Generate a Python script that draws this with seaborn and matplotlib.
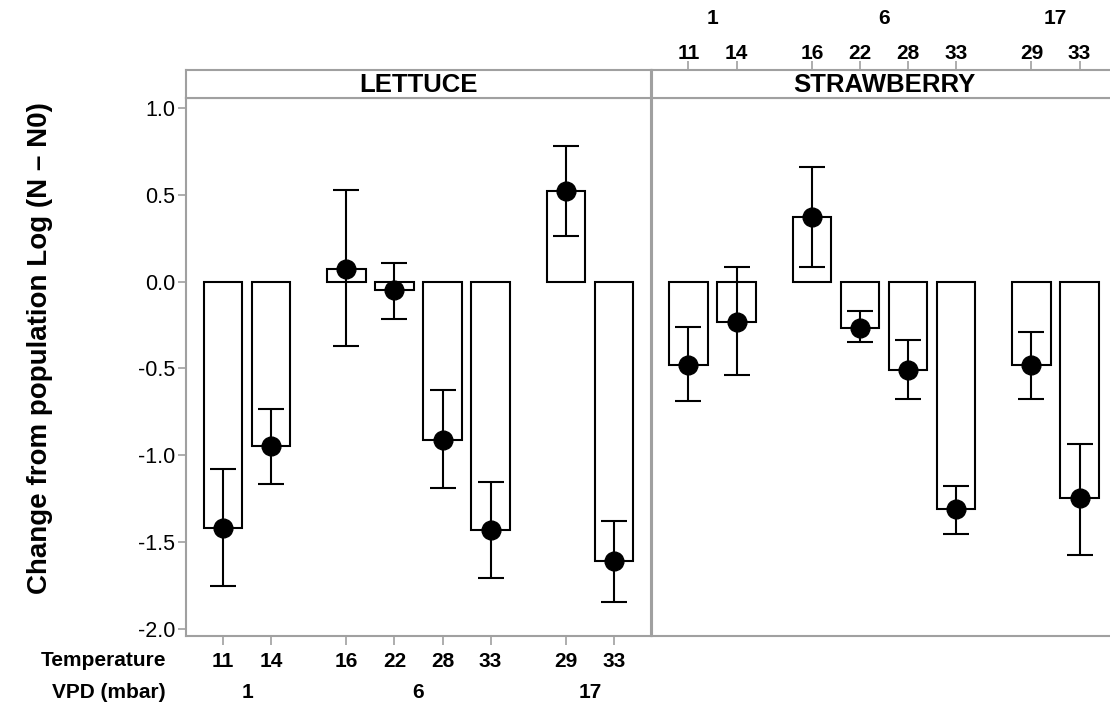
import numpy as np
import pandas as pd
import matplotlib
matplotlib.use("Agg")
import matplotlib.pyplot as plt
import matplotlib.transforms as mtransforms
import seaborn as sns

# ---- data ----
crops = ["LETTUCE", "STRAWBERRY"]
temperatures = [11, 14, 16, 22, 28, 33, 29, 33]
vpd_mbar = [1, 1, 6, 6, 6, 6, 17, 17]

lettuce_mean = [-1.42, -0.95, 0.075, -0.05, -0.915, -1.43, 0.525, -1.61]
lettuce_low = [-1.755, -1.165, -0.372, -0.215, -1.187, -1.707, 0.265, -1.849]
lettuce_high = [-1.078, -0.732, 0.53, 0.108, -0.625, -1.153, 0.783, -1.382]

strawberry_mean = [-0.48, -0.231, 0.375, -0.267, -0.507, -1.311, -0.48, -1.249]
strawberry_low = [-0.686, -0.54, 0.085, -0.348, -0.675, -1.453, -0.675, -1.574]
strawberry_high = [-0.263, 0.085, 0.663, -0.167, -0.336, -1.178, -0.288, -0.938]

y_ticks = [1.0, 0.5, 0.0, -0.5, -1.0, -1.5, -2.0]

# ---- style ----
sns.set_style("white")
plt.rcParams["font.family"] = ["Liberation Sans", "DejaVu Sans"]
plt.rcParams["axes.unicode_minus"] = False
plt.rcParams["text.color"] = "black"
plt.rcParams["axes.labelcolor"] = "black"
plt.rcParams["xtick.color"] = "black"
plt.rcParams["ytick.color"] = "black"

GRAY = "#a0a0a0"
W, H = 1110, 707
fig = plt.figure(figsize=(W / 100, H / 100), dpi=100)

# x positions: unit spacing within a VPD group, wider gap between groups
positions = []
x = 0.0
prev = None
for v in vpd_mbar:
    if prev is not None:
        x += 1.0 if v == prev else 1.57
    positions.append(x)
    prev = v
positions = np.array(positions)
xlim = (positions[0] - 0.77, positions[-1] + 0.77)
ylim = (-2.043, 1.059)

rows = []
for crop, m, lo, hi in [
    ("LETTUCE", lettuce_mean, lettuce_low, lettuce_high),
    ("STRAWBERRY", strawberry_mean, strawberry_low, strawberry_high),
]:
    for p, t, v, mm, l, h in zip(positions, temperatures, vpd_mbar, m, lo, hi):
        rows.append(dict(crop=crop, pos=p, temp=t, vpd=v, mean=mm, low=l, high=h))
df = pd.DataFrame(rows)

def fx(px):
    return px / W

def fy(py):
    return 1 - py / H

panel_left = [186.0, 651.5]
panel_w = 465.0
top_plot, bottom_plot = 98.0, 636.0
strip_top = 70.0
LBL = 15

for i, crop in enumerate(crops):
    ax = fig.add_axes([fx(panel_left[i]), fy(bottom_plot), fx(panel_w), (bottom_plot - top_plot) / H])
    st = fig.add_axes([fx(panel_left[i]), fy(top_plot), fx(panel_w), (top_plot - strip_top) / H])
    sub = df[df.crop == crop]
    sns.barplot(data=sub, x="pos", y="mean", native_scale=True, color="white",
                edgecolor="black", linewidth=1.5, width=0.8, errorbar=None,
                saturation=1, ax=ax, zorder=2)
    ax.errorbar(sub["pos"], sub["mean"],
                yerr=[sub["mean"] - sub["low"], sub["high"] - sub["mean"]],
                fmt="o", color="black", ms=13.5, capsize=9.7, elinewidth=1.5,
                capthick=1.5, zorder=3)
    ax.set_xlim(*xlim)
    ax.set_ylim(*ylim)
    ax.set_xlabel("")
    ax.set_ylabel("")
    for s in ax.spines.values():
        s.set_color(GRAY)
        s.set_linewidth(1.5)
        s.set_visible(True)
    ax.set_xticks(positions)
    if i == 0:
        ax.set_yticks(y_ticks)
        ax.set_yticklabels([f"{t:.1f}" for t in y_ticks], fontsize=15.5)
        ax.tick_params(axis="y", direction="out", length=6, width=1.2, color=GRAY,
                       labelcolor="black", pad=2, left=True)
        ax.set_xticklabels([str(t) for t in temperatures], fontsize=LBL, fontweight="bold")
        ax.tick_params(axis="x", direction="out", length=6.5, width=1.2, color=GRAY,
                       labelcolor="black", pad=5, bottom=True)
        trans = mtransforms.blended_transform_factory(ax.transData, fig.transFigure)
        for v in sorted(set(vpd_mbar)):
            xs = positions[np.array(vpd_mbar) == v]
            ax.text(xs.mean(), fy(693), str(v), transform=trans, ha="center", va="center",
                    fontsize=LBL, fontweight="bold", color="black")
    else:
        ax.set_yticks([])
        ax.set_xticklabels([])
        ax.tick_params(axis="x", length=0)

    # strip header
    st.set_xlim(*xlim)
    st.set_ylim(0, 1)
    st.set_yticks([])
    for s in st.spines.values():
        s.set_color(GRAY)
        s.set_linewidth(1.5)
    st.text(0.5, 0.46, crop, transform=st.transAxes, ha="center", va="center",
            fontsize=18.5, fontweight="bold", color="black")
    if i == 1:
        st.xaxis.tick_top()
        st.set_xticks(positions)
        st.set_xticklabels([str(t) for t in temperatures], fontsize=LBL, fontweight="bold")
        st.tick_params(axis="x", direction="out", length=6.5, width=1.2, color=GRAY,
                       labelcolor="black", pad=-1.5, top=True)
        trans = mtransforms.blended_transform_factory(st.transData, fig.transFigure)
        for v in sorted(set(vpd_mbar)):
            xs = positions[np.array(vpd_mbar) == v]
            st.text(xs.mean(), fy(18.5), str(v), transform=trans, ha="center", va="center",
                    fontsize=LBL, fontweight="bold", color="black")
    else:
        st.set_xticks([])

fig.text(fx(166), fy(660.5), "Temperature", ha="right", va="center", fontsize=LBL,
         fontweight="bold", color="black")
fig.text(fx(166), fy(693), "VPD (mbar)", ha="right", va="center", fontsize=LBL,
         fontweight="bold", color="black")
fig.text(fx(40), fy(348), "Change from population Log (N \u2013 N0)", rotation=90,
         ha="center", va="center", fontsize=20, fontweight="bold", color="black")

fig.savefig("out.png", dpi=100)
